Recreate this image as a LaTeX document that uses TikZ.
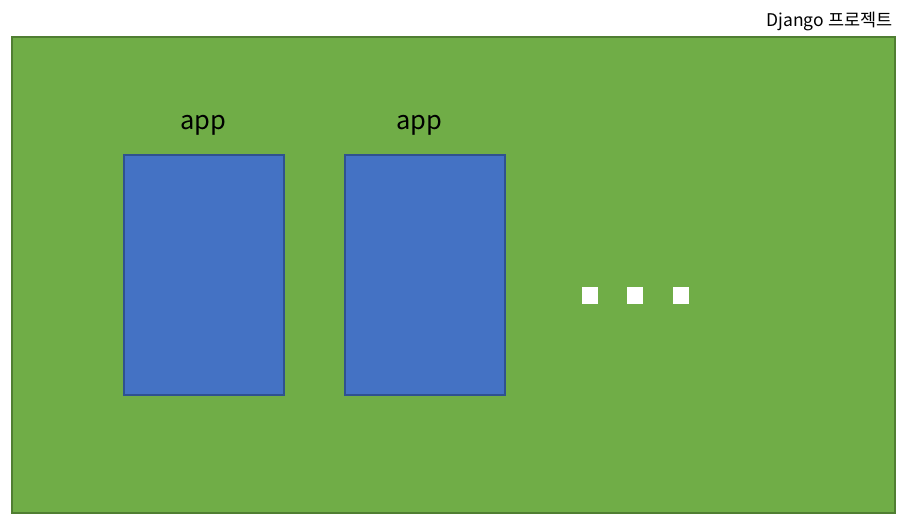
\documentclass[tikz,border=0pt]{standalone}
\usepackage{fontspec}
\setmainfont{Noto Sans CJK KR}
\definecolor{projgreen}{HTML}{70AD47}
\definecolor{projedge}{HTML}{507E32}
\definecolor{appblue}{HTML}{4472C4}
\definecolor{appedge}{HTML}{2F528F}
\begin{document}
\begin{tikzpicture}[x=1pt,y=-1pt,
  project/.style={fill=projgreen,draw=projedge,line width=1.5pt},
  appbox/.style={fill=appblue,draw=appedge,line width=1.5pt},
  dot/.style={fill=white},
  applabel/.style={font=\fontsize{25.5}{30}\selectfont,text=black},
  projlabel/.style={font=\fontsize{17.5}{21}\selectfont,text=black,anchor=east}]
  \useasboundingbox (0,0) rectangle (906,522);
  % project frame
  \path[project] (12,37) rectangle (895,513);
  \node[projlabel] (title) at (896,21) {Django 프로젝트};
  % apps
  \path[appbox] (124,155) rectangle (284,395);
  \path[appbox] (345,155) rectangle (505,395);
  \node[applabel] (app1) at (203,125) {app};
  \node[applabel] (app2) at (419,125) {app};
  % ellipsis squares
  \path[dot] (582,287) rectangle (598,304);
  \path[dot] (627,287) rectangle (643,304);
  \path[dot] (673,287) rectangle (689,304);
\end{tikzpicture}
\end{document}
